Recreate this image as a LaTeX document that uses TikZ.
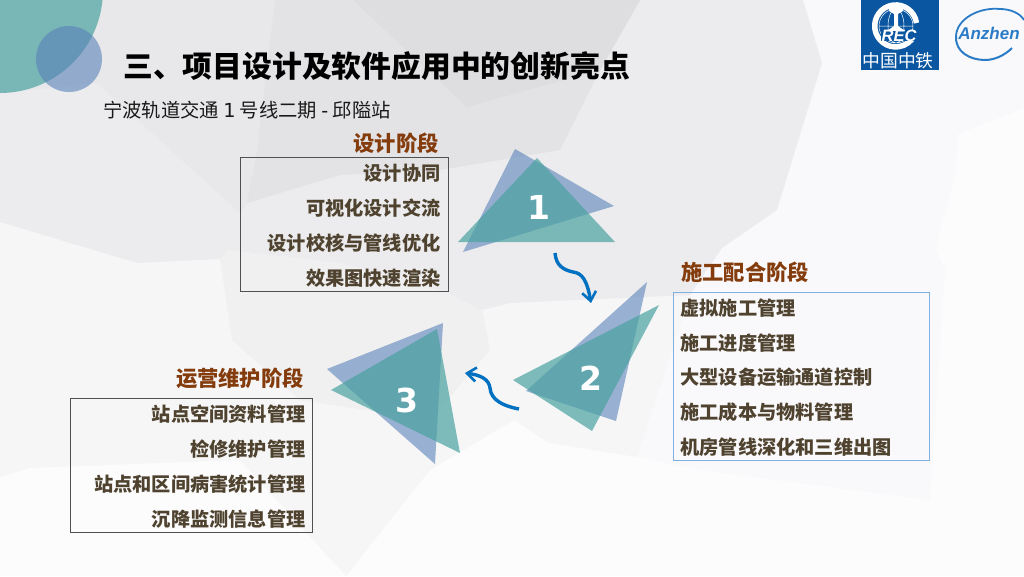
\documentclass[tikz,border=0pt]{standalone}
\usepackage{fontspec}
\usepackage{xcolor}
\usetikzlibrary{positioning, arrows.meta}
\setmainfont{Noto Sans CJK SC}
\newfontfamily\numfont{DejaVu Sans}
\newfontfamily\logofont{Liberation Sans}
\definecolor{paperwhite}{HTML}{FCFCFD}
\definecolor{ashpale}{HTML}{F9F9FB}
\definecolor{ashsoft}{HTML}{F6F6F7}
\definecolor{ashlight}{HTML}{F0F0F1}
\definecolor{ashmid}{HTML}{ECECEE}
\definecolor{ashtop}{HTML}{E8E8EA}
\definecolor{ashdark}{HTML}{E3E3E6}
\definecolor{ashdeep}{HTML}{DEDEE1}
\definecolor{tealtri}{HTML}{4AA2A1}
\definecolor{bluetri}{HTML}{5A82B9}
\definecolor{arrowblue}{HTML}{0070C0}
\definecolor{phasebrown}{HTML}{843C0C}
\definecolor{itembrown}{HTML}{4F4330}
\definecolor{framegray}{HTML}{505050}
\definecolor{frameblue}{HTML}{7FB0E0}
\definecolor{railblue}{HTML}{0A56A0}
\definecolor{anzhenblue}{HTML}{2A7CC7}
\tikzset{
    bluetriangle/.style={fill=bluetri, fill opacity=0.6},
    tealtriangle/.style={fill=tealtri, fill opacity=0.7},
    phasenum/.style={text=white, font=\numfont\bfseries\fontsize{33}{33}\selectfont},
    phasehead/.style={text=phasebrown, inner sep=0pt, font=\bfseries\fontsize{21.3}{21}\selectfont},
    itembox/.style={draw=framegray, line width=0.9pt, inner xsep=8pt, inner ysep=0pt,
        text=itembrown, font=\bfseries\fontsize{19.2}{34.7}\selectfont,
        execute at begin node={\rule{0pt}{19pt}}},
    flowarrow/.style={draw=arrowblue, line width=3.4pt,
        -{Straight Barb[length=9pt, width=14pt, line width=2.6pt]}},
}
\begin{document}
\begin{tikzpicture}[x=1pt, y=-1pt]
    \useasboundingbox (0,0) rectangle (1024,576);
    \fill[paperwhite] (0,0) rectangle (1024,576);
    \fill[ashpale] (690,295) -- (722,248) -- (777,210) -- (822,63) -- (803,0) -- (1024,0) -- (1024,108) -- (958,134)
        -- (955,175) -- (935,250) -- (945,268) -- (930,500) -- (700,470) -- (637,457) -- cycle;
    \fill[ashsoft] (0,222) -- (137,263) -- (220,259) -- (240,460) -- (30,468) -- (0,477) -- cycle;
    \fill[ashsoft] (240,460) -- (346,576) -- (430,470) -- (514,420) -- (482,310) -- (220,259) -- cycle;
    \fill[ashsoft] (482,310) -- (510,303) -- (690,295) -- (637,457) -- (549,443) -- (514,420) -- cycle;
    \fill[ashlight] (220,259) -- (228,250) -- (340,263) -- (445,292) -- (482,310) -- (490,350) -- (430,420) -- (300,400) -- (232,340) -- cycle;
    \fill[ashmid] (0,0) -- (803,0) -- (822,63) -- (777,210) -- (722,248) -- (690,295) -- (510,303) -- (482,310)
        -- (445,292) -- (340,263) -- (228,250) -- (220,259) -- (137,263) -- (0,222) -- cycle;
    \fill[ashtop] (0,0) -- (275,0) -- (257,150) -- (247,203) -- (240,213) -- (97,83) -- (0,93) -- cycle;
    \fill[ashdark] (275,0) -- (640,0) -- (600,70) -- (560,150) -- (440,170) -- (340,175) -- (247,203) -- (257,150) -- cycle;
    \fill[ashdeep] (353,0) -- (640,0) -- (600,70) -- (467,107) -- cycle;
    \fill[tealtri, fill opacity=0.7] (0,-10) circle (103pt);
    \fill[bluetri, fill opacity=0.6] (69,59) circle (33pt);
    \node[anchor=west, inner sep=0pt, font=\bfseries\fontsize{29.8}{30}\selectfont] (title) at (123,66) {三、项目设计及软件应用中的创新亮点};
    \node[anchor=west, inner sep=0pt, text=black!90, font=\fontsize{19.3}{19}\selectfont] (subtitle) at (103,110) {宁波轨道交通 {\numfont 1} 号线二期 {\numfont -} 邱隘站};
    \fill[railblue] (861,0) rectangle (939,70);
    \draw[white, line width=0.5pt] (896,26) circle (17pt) (879,26) -- (913,26) (896,26) ellipse (8pt and 17pt);
    \draw[white, line width=5.5pt] (916.5,23) arc[start angle=8, end angle=335, radius=21pt];
    \fill[white] (889,7) -- (903,7) -- (903,11) -- (898,14) -- (898,26) -- (905,31) -- (887,31) -- (894,26) -- (894,14) -- (889,11) -- cycle;
    \node[fill=railblue, inner xsep=1pt, inner ysep=-1pt, text=white, font=\logofont\bfseries\itshape\fontsize{16.5}{14}\selectfont] (recmark) at (899,36) {REC};
    \node[text=white, inner sep=0pt, font=\fontsize{17.8}{18}\selectfont] (railname) at (898,61) {中国中铁};
    \draw[anzhenblue, line width=1.8pt] (956,36) .. controls (957,18) and (980,7) .. (1000,9) .. controls (1010,9) and (1020,13) .. (1024,20);
    \draw[anzhenblue, line width=2pt] (956,36) .. controls (955,52) and (970,60) .. (985,60) .. controls (995,60) and (1005,55) .. (1012,48);
    \node[text=anzhenblue, inner sep=0pt, font=\logofont\bfseries\itshape\fontsize{17}{17}\selectfont] (anzhen) at (989,33) {Anzhen};
    \node[phasehead, anchor=east] (designhead) at (439,143) {设计阶段};
    \node[itembox, anchor=north west, minimum width=208pt, minimum height=134pt, text width=192pt, align=right] (designbox) at (240,157) {%
      设计协同\\
      可视化设计交流\\
      设计校核与管线优化\\
      效果图快速渲染};
    \node[phasehead, anchor=west] (buildhead) at (681,272) {施工配合阶段};
    \node[itembox, draw=frameblue, inner xsep=7pt, anchor=north west, minimum width=256pt, minimum height=168pt, text width=242pt, align=left] (buildbox) at (673,292) {%
      虚拟施工管理\\
      施工进度管理\\
      大型设备运输通道控制\\
      施工成本与物料管理\\
      机房管线深化和三维出图};
    \node[phasehead, anchor=east] (runhead) at (304,378) {运营维护阶段};
    \node[itembox, anchor=north west, inner xsep=7pt, minimum width=242pt, minimum height=134pt, text width=228pt, align=right] (runbox) at (70,398) {%
      站点空间资料管理\\
      检修维护管理\\
      站点和区间病害统计管理\\
      沉降监测信息管理};
    \fill[bluetriangle] (515,149) -- (614,206) -- (463,252) -- cycle;
    \fill[tealtriangle] (537,158) -- (615,242) -- (458,242) -- cycle;
    \node[phasenum] (numone) at (539,207) {1};
    \fill[bluetriangle] (647,282) -- (616,421) -- (526,391) -- cycle;
    \fill[tealtriangle] (659,305) -- (592,431) -- (513,380) -- cycle;
    \node[phasenum] (numtwo) at (591,378) {2};
    \fill[bluetriangle] (443,323) -- (435,464) -- (327,369) -- cycle;
    \fill[tealtriangle] (437,329) -- (460,453) -- (331,390) -- cycle;
    \node[phasenum] (numthree) at (407,400) {3};
    \coordinate (onestart) at (555,253);
    \coordinate (oneend) at (591,303);
    \coordinate (twostart) at (519,409);
    \coordinate (twoend) at (465,373);
    \draw[flowarrow] (onestart) .. controls (556,266) and (564,270) .. (573,272) .. controls (582,273) and (587,280) .. (oneend);
    \draw[flowarrow] (twostart) .. controls (503,406) and (491,400) .. (490,388) .. controls (489,379) and (480,375) .. (twoend);
\end{tikzpicture}
\end{document}
